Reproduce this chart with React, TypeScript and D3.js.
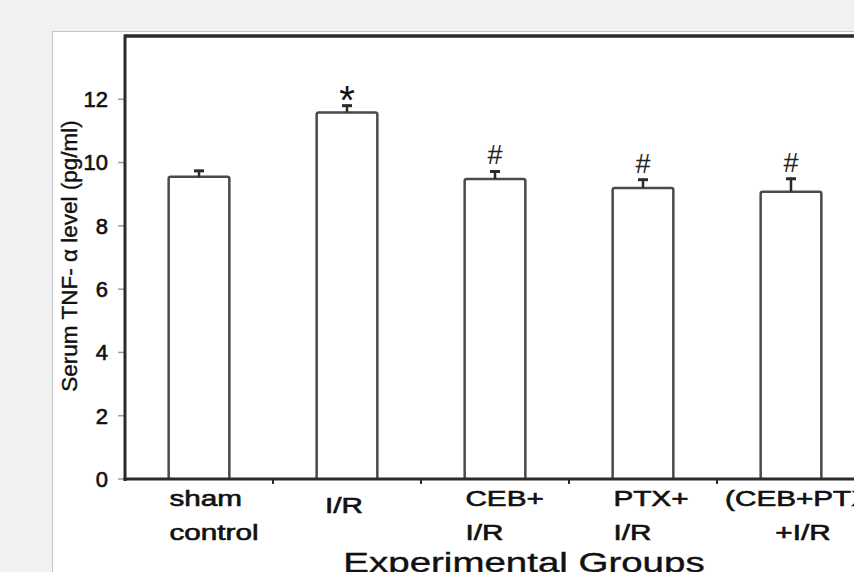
import React from 'react';
import { scaleBand, scaleLinear } from 'd3';

const groups = ["sham control", "I/R", "CEB+ I/R", "PTX+ I/R", "(CEB+PTX) +I/R"];
const labelLines = [["sham", "control"], ["I/R"], ["CEB+", "I/R"], ["PTX+", "I/R"], ["(CEB+PTX)", "+I/R"]];
const means = [9.55, 11.58, 9.48, 9.2, 9.08];
const errors = [0.22, 0.25, 0.27, 0.29, 0.44];
const marks = ["", "*", "#", "#", "#"];
const yTicks = [0, 2, 4, 6, 8, 10, 12];

// how each x label block is aligned
const labelAlign = ["start", "middle", "start", "start", "middle"];

const FONT = "Arial, 'Liberation Sans', sans-serif";
const INK = "#2a2a2a";
// blurry scan look: a hairline stroke thickens the glyphs
const heavy = { fill: "#111", stroke: "#111", strokeWidth: 0.6 };

const App = () => {
    const width = 854;
    const height = 572;
    const margin = { left: 125, top: 36, bottom: 479 };

    const xScale = scaleBand()
        .domain(groups)
        .range([margin.left, margin.left + 148 * groups.length]);

    const yScale = scaleLinear()
        .domain([0, 14])
        .range([margin.bottom, margin.top]);

    const bw = xScale.bandwidth();
    const barW = bw * 0.41;

    return (
        <svg width={width} height={height} style={{ position: "absolute", left: 0, top: 0 }} fontFamily={FONT}>
            <rect x={0} y={0} width={width} height={height} fill="#f1f1f1" />
            <rect x={52.5} y={31.5} width={width} height={height} fill="#fff" stroke="#c4c4c4" strokeWidth={1} />

            {/* y ticks */}
            {yTicks.map(t => (
                <g key={t} transform={`translate(0, ${yScale(t)})`}>
                    <line x1={118} x2={124} stroke="#9a9a9a" strokeWidth={1.5} />
                    <text x={108} dy="0.36em" textAnchor="end" fontSize={22} {...heavy}>{t}</text>
                </g>
            ))}

            {/* x ticks between groups */}
            {groups.slice(1).map(g => (
                <line key={g} x1={xScale(g)} x2={xScale(g)} y1={yScale(0)} y2={yScale(0) + 5} stroke={INK} strokeWidth={2} />
            ))}

            {/* bars */}
            {groups.map((g, i) => {
                const cx = xScale(g) + bw / 2;
                const top = yScale(means[i] + errors[i]);
                return (
                    <g key={g}>
                        <path
                            d={`M${cx - barW / 2},${yScale(0)} V${yScale(means[i]) + 2} q0,-2 2,-2 H${cx + barW / 2 - 2} q2,0 2,2 V${yScale(0)}`}
                            fill="#fff" stroke="#4a4a4a" strokeWidth={2.5} />
                        <line x1={cx} x2={cx} y1={yScale(means[i])} y2={top} stroke={INK} strokeWidth={2.5} />
                        <line x1={cx - 5} x2={cx + 5} y1={top + 1} y2={top + 1} stroke={INK} strokeWidth={3} />
                        {marks[i] === "*" && (
                            <text x={cx} y={top + 9} textAnchor="middle" fontSize={40} fill="#111">*</text>
                        )}
                        {marks[i] === "#" && (
                            <text x={cx} y={top - 6} textAnchor="middle" fontSize={27} fill="#222">#</text>
                        )}
                    </g>
                );
            })}

            {/* axes frame */}
            <line x1={margin.left} x2={width} y1={margin.top} y2={margin.top} stroke={INK} strokeWidth={3.5} />
            <line x1={margin.left} x2={margin.left} y1={margin.top - 1.5} y2={yScale(0) + 2} stroke={INK} strokeWidth={3} />
            <line x1={margin.left - 1.5} x2={width} y1={yScale(0)} y2={yScale(0)} stroke={INK} strokeWidth={3} />

            {/* x labels */}
            {groups.map((g, i) => {
                const lines = labelLines[i];
                const align = labelAlign[i];
                const x = align === "start" ? xScale(g) + bw * 0.3 : xScale(g) + bw / 2 + (lines.length > 1 ? 12 : -3);
                const ys = lines.length > 1 ? [506, 540] : [513];
                return lines.map((ln, j) => (
                    <text key={g + j} transform={`translate(${x}, ${ys[j]}) scale(1.35, 1)`}
                        textAnchor={align} fontSize={22} {...heavy}>{ln}</text>
                ));
            })}

            <text transform={`translate(524, 572) scale(1.35, 1)`} textAnchor="middle" fontSize={28.5} {...heavy} strokeWidth={0.4}>Experimental Groups</text>

            <text transform={`translate(77, 256) rotate(-90)`} textAnchor="middle" fontSize={22.5} {...heavy} strokeWidth={0.4}>Serum TNF- α level (pg/ml)</text>
        </svg>
    );
};

export default App;
